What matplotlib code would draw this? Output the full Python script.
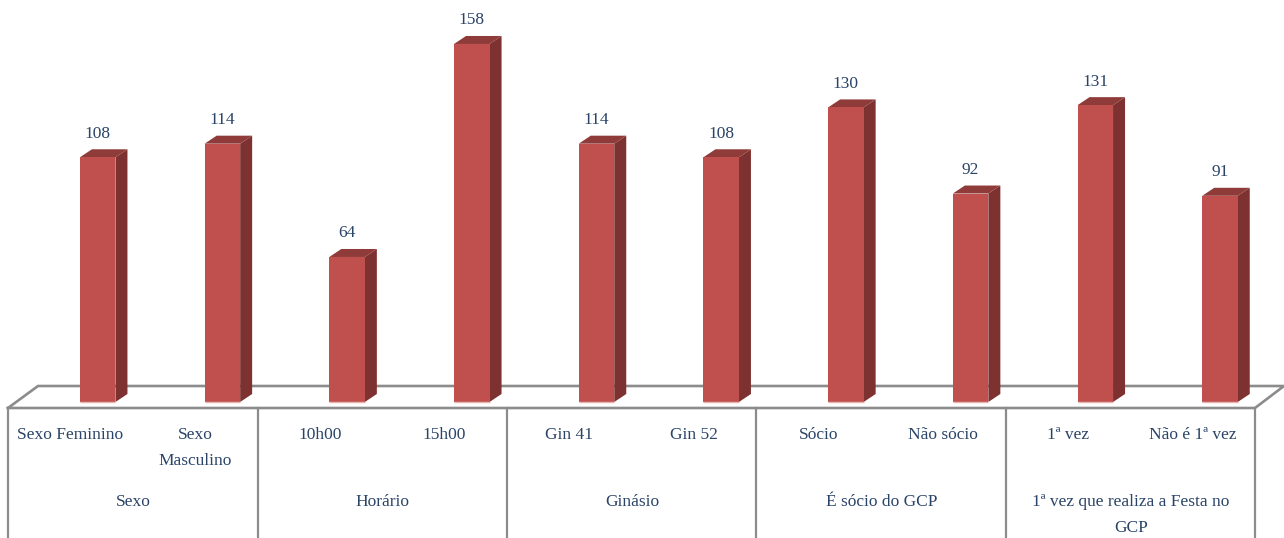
import matplotlib
matplotlib.use('Agg')
import matplotlib.pyplot as plt
from matplotlib.patches import Polygon

values = [108, 114, 64, 158, 114, 108, 130, 92, 131, 91]
labels = ['Sexo Feminino', 'Sexo\nMasculino', '10h00', '15h00', 'Gin 41', 'Gin 52',
          'Sócio', 'Não sócio', '1ª vez', 'Não é 1ª vez']
groups = ['Sexo', 'Horário', 'Ginásio', 'É sócio do GCP', '1ª vez que realiza a Festa no\nGCP']

FRONT = '#C0504D'
SIDE = '#7D3130'
TOP = '#8F3B39'
GRID = '#8C8C8C'
TEXT = '#2A4468'

plt.rcParams['font.family'] = ['Liberation Serif', 'DejaVu Serif']

# one bar step is 124.7 px, one unit is 2.266 px
step = 124.7
unit = 2.266
width = 35.5 / step
dx = 12 / step
dy = 8 / unit
FS = 12.5


def px_x(p):
    return (p - 97.7) / step


def px_y(p):
    return (402 - p) / unit


fig = plt.figure(figsize=(12.84, 5.38), dpi=100)
ax = fig.add_axes([0, 0, 1, 1])
ax.set_xlim(px_x(0), px_x(1284))
ax.set_ylim(px_y(538), px_y(0))
ax.axis('off')

# floor
floor_x = [px_x(p) for p in (8, 38, 1284, 1255, 8)]
floor_y = [px_y(p) for p in (408, 386, 386, 408, 408)]
ax.plot(floor_x, floor_y, color=GRID, lw=1.9, zorder=1, solid_joinstyle='miter')
for p in (8, 258, 507, 756, 1006, 1255):
    ax.plot([px_x(p), px_x(p)], [px_y(408), px_y(538)], color=GRID, lw=1.6, zorder=1)

# bars with fake depth
xs = list(range(len(values)))
ax.bar(xs, values, width=width, color=FRONT, linewidth=0, zorder=3)
for x, v in zip(xs, values):
    left = x - width / 2
    right = x + width / 2
    ax.add_patch(Polygon([(right, 0), (right + dx, dy), (right + dx, v + dy), (right, v)],
                         color=SIDE, lw=0, zorder=2))
    ax.add_patch(Polygon([(left, v), (left + dx, v + dy), (right + dx, v + dy), (right, v)],
                         color=TOP, lw=0, zorder=2))
    ax.plot([left, right], [0, 0], color='#E8B4B2', lw=1, zorder=4, solid_capstyle='butt')
    ax.text(x + 0.5 * dx - 0.05, v + dy + 3.3, str(v), ha='center', va='bottom',
            fontsize=FS, color=TEXT)

# category labels
for x, lab in zip(xs, labels):
    ax.text(x - 0.22, px_y(427), lab, ha='center', va='top', fontsize=FS, color=TEXT,
            linespacing=1.85)

# group labels
for i, g in enumerate(groups):
    cx = px_x(133 + 249.5 * i)
    ax.text(cx, px_y(494), g, ha='center', va='top', fontsize=FS, color=TEXT,
            linespacing=1.85)

fig.savefig('out.png', dpi=100)
